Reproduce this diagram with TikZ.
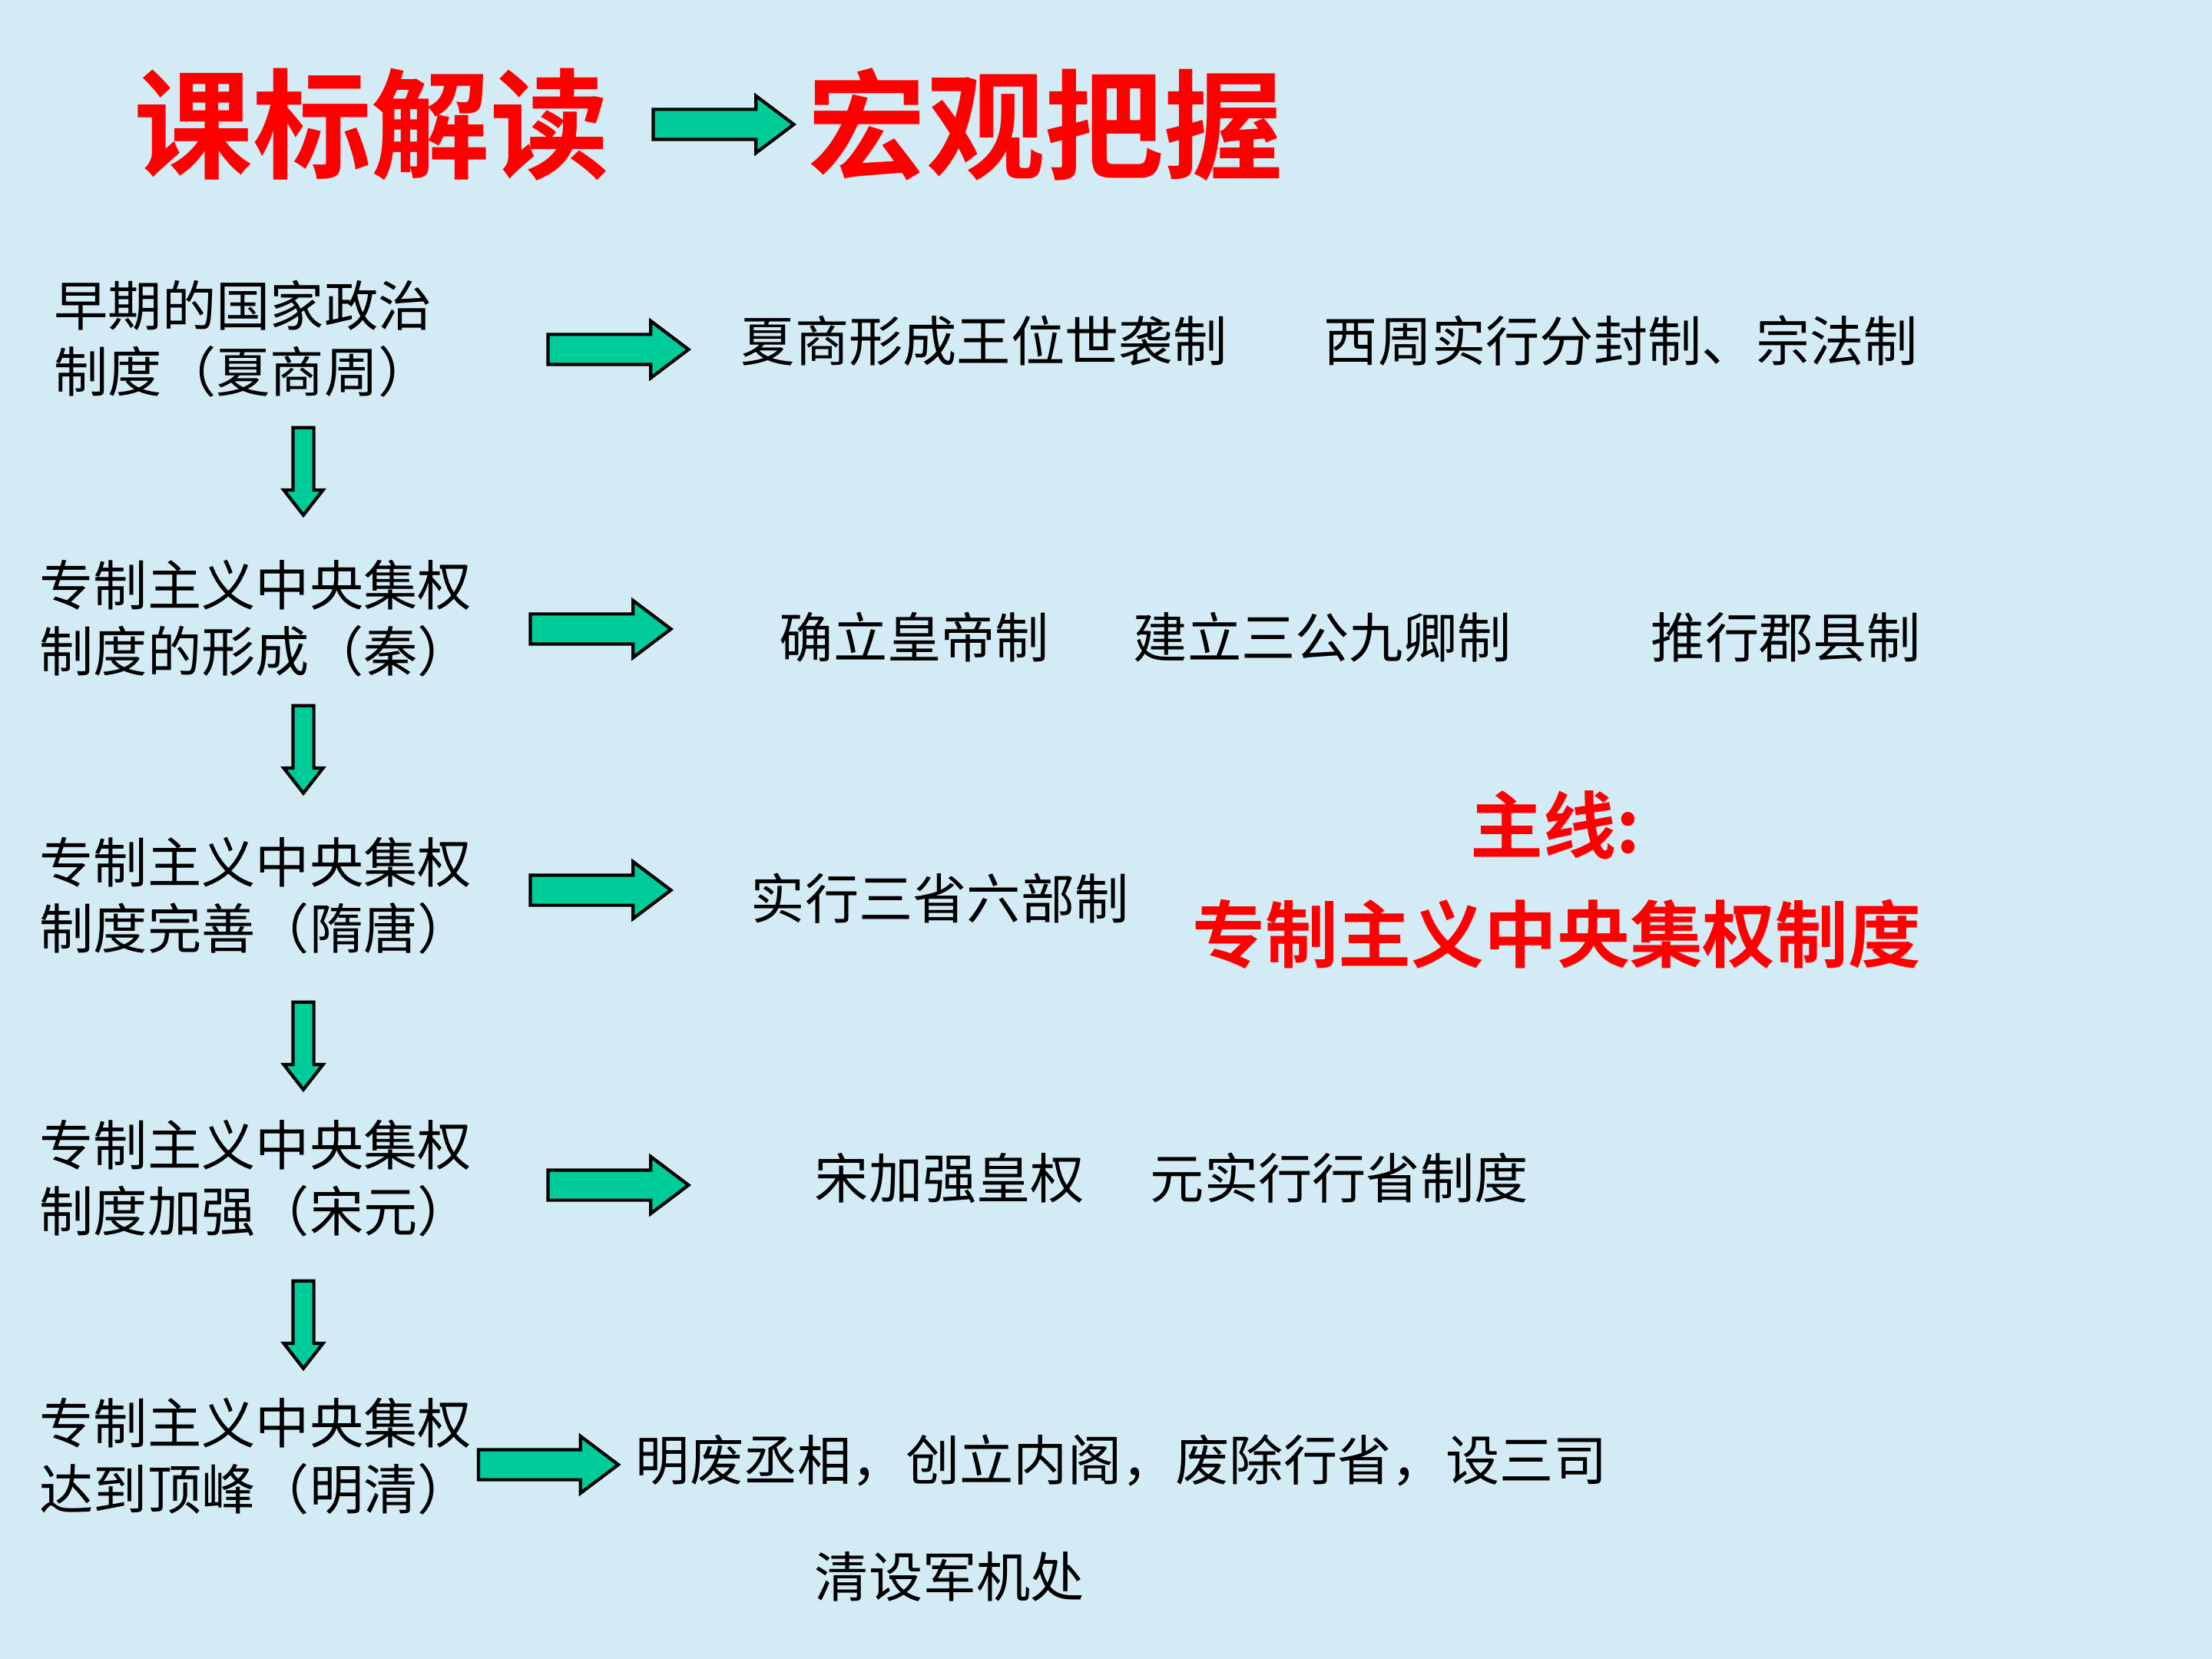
\documentclass[tikz,border=0pt]{standalone}
\usepackage{fontspec}
\usepackage{xcolor}
\usepackage{tikz}
\usetikzlibrary{shapes.arrows, positioning}

\newfontfamily\cjk{Noto Sans CJK SC}
\newfontfamily\cjkbf{Noto Sans CJK SC Bold}

\definecolor{slidebg}{RGB}{210,235,245}
\definecolor{arrowgreen}{RGB}{0,204,153}

\begin{document}
\begin{tikzpicture}[
  x=1cm, y=-1cm,
  stage/.style={anchor=west, inner sep=0pt, align=left,
                font=\cjk\fontsize{20}{24.5}\selectfont},
  item/.style={anchor=west, inner sep=0pt,
               font=\cjk\fontsize{20}{24}\selectfont},
  headline/.style={anchor=west, inner sep=0pt, text=red,
                   font=\cjkbf\fontsize{44}{48}\selectfont},
  mainline/.style={anchor=west, inner sep=0pt, text=red,
                   font=\cjkbf\fontsize{27}{30}\selectfont},
  fatarrow/.style={single arrow, draw=black, line width=1.2pt,
                   fill=arrowgreen, inner sep=0pt, minimum width=7mm,
                   single arrow head extend=1.75mm,
                   single arrow tip angle=74, minimum height=#1},
  fatarrow/.default=18.3mm,
  downarrow/.style={single arrow, draw=black, line width=1.2pt,
                    fill=arrowgreen, inner sep=0pt, minimum width=4.7mm,
                    single arrow head extend=1.2mm,
                    single arrow tip angle=76, minimum height=11.4mm,
                    shape border rotate=270},
]
  % ── background ──
  \fill[slidebg] (0,0) rectangle (28.8,21.6);
  \useasboundingbox (0,0) rectangle (28.8,21.6);

  % ── title ──
  \node[headline] (t1) at (1.74,1.62) {课标解读};
  \node[fatarrow, text height=3.5mm] (ta) at (9.29,1.62) {};
  \node[headline] (t2) at (10.51,1.62) {宏观把握};

  % ── stages ──
  \node[stage] (s1) at (0.70,4.41) {早期的国家政治\\制度（夏商周）};
  \node[stage] (s2) at (0.51,8.05) {专制主义中央集权\\制度的形成（秦）};
  \node[stage] (s3) at (0.51,11.66) {专制主义中央集权\\制度完善（隋唐）};
  \node[stage] (s4) at (0.51,15.34) {专制主义中央集权\\制度加强（宋元）};
  \node[stage] (s5) at (0.51,18.96) {专制主义中央集权\\达到顶峰（明清）};

  % ── arrows between stages ──
  \node[downarrow, text width=2.3mm] (d1) at (3.95,6.05) {};
  \node[downarrow, text width=2.3mm] (d2) at (3.95,9.67) {};
  \node[downarrow, text width=2.3mm] (d3) at (3.95,13.53) {};
  \node[downarrow, text width=2.3mm] (d4) at (3.95,17.16) {};

  % ── arrows to measures ──
  \node[fatarrow, text height=3.5mm] (r1) at (7.92,4.55) {};
  \node[fatarrow, text height=3.5mm] (r2) at (7.69,8.19) {};
  \node[fatarrow, text height=3.5mm] (r3) at (7.69,11.59) {};
  \node[fatarrow, text height=3.5mm] (r4) at (7.92,15.43) {};
  \node[fatarrow=18.2mm, text height=3.5mm] (r5) at (7.01,19.07) {};

  % ── measures ──
  \node[item] (m1a) at (9.64,4.44) {夏商形成王位世袭制};
  \node[item] (m1b) at (17.23,4.44) {西周实行分封制、宗法制};
  \node[item] (m2a) at (10.14,8.30) {确立皇帝制};
  \node[item] (m2b) at (14.75,8.30) {建立三公九卿制};
  \node[item] (m2c) at (21.49,8.30) {推行郡县制};
  \node[item] (m3a) at (9.77,11.70) {实行三省六部制};
  \node[item] (m4a) at (10.60,15.34) {宋加强皇权};
  \node[item] (m4b) at (14.97,15.34) {元实行行省制度};
  \node[item] (m5a) at (8.27,19.01) {明废丞相，创立内阁，废除行省，设三司};
  \node[item] (m5b) at (10.60,20.53) {清设军机处};

  % ── main line ──
  \node[mainline] (ml1) at (19.14,10.74) {主线:};
  \node[mainline] (ml2) at (15.52,12.16) {专制主义中央集权制度};
\end{tikzpicture}
\end{document}
